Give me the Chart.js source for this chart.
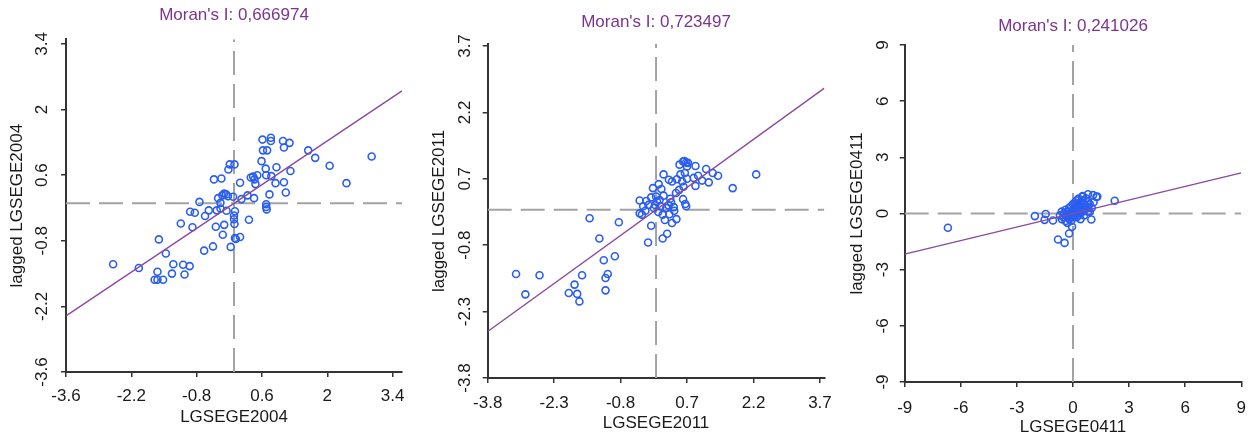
<!DOCTYPE html>
<html>
<head>
<meta charset="utf-8">
<script src="https://cdn.jsdelivr.net/npm/chart.js@4"></script>
<style>
  html, body { margin: 0; padding: 0; background: #fff; }
  #wrap { position: relative; width: 1254px; height: 441px; }
  canvas { position: absolute; top: 0; }
</style>
</head>
<body>
<div id="wrap">
  <canvas id="c2004" width="418" height="441" style="left:0px"></canvas>
  <canvas id="c2011" width="414" height="441" style="left:420px"></canvas>
  <canvas id="c0411" width="420" height="441" style="left:834px"></canvas>
</div>
<script>
// tick values
const ticks2004 = [-3.6, -2.2, -0.8, 0.6, 2, 3.4];
const ticks2011 = [-3.8, -2.3, -0.8, 0.7, 2.2, 3.7];
const ticks0411 = [-9, -6, -3, 0, 3, 6, 9];

// Moran's I (slope of the fitted line)
const moranI = [0.666974, 0.723497, 0.241026];
const moranText = ['0,666974', '0,723497', '0,241026'];

// LGSEGE2004 vs lagged
const x2004 = [-2.59, -2.04, -1.61, -1.46, -1.64, -1.70, -1.64, -1.52, -1.33, -1.30, -1.09, -0.95, -1.06, -1.14,
  -0.89, -0.94, -0.84, -0.74, -0.62, -0.54, -0.64, -0.45, -0.39, -0.21, -0.24, -0.07, 0.02, 0.13, 0.32, 0.01,
  0.00, 0.02, -0.37, -0.29, -0.34, -0.25, -0.21, -0.17, -0.13, -0.02, -0.29, -0.16, 0.16, 0.29, 0.43, 0.13,
  -0.43, -0.27, -0.12, -0.09, 0.01, 0.36, 0.41, 0.44, 0.50, 0.46, 0.59, 0.68, 0.69, 0.80, 0.91, 0.76, 0.69,
  0.69, 0.70, 0.89, 1.07, 1.11, 1.21, 0.62, 0.71, 0.61, 0.79, 0.79, 1.05, 1.19, 1.07, 1.59, 1.74, 2.05, 2.41,
  2.95, 0.00, 0.04];
const lag2004 = [-1.30, -1.38, -0.77, -1.07, -1.46, -1.63, -1.63, -1.63, -1.50, -1.30, -1.31, -1.34, -1.52, -0.43,
  -0.51, -0.18, -0.20, 0.03, -0.27, -0.15, -1.01, -0.92, -0.50, -0.46, -0.67, -0.93, -0.74, -0.72, -0.35, -0.44,
  -0.26, -0.17, -0.15, -0.11, 0.11, 0.17, 0.21, 0.19, 0.15, 0.14, 0.01, -0.16, 0.09, 0.17, 0.11, 0.44,
  0.51, 0.53, 0.72, 0.83, 0.83, 0.55, 0.57, 0.51, 0.60, 0.41, 0.90, 0.74, 0.60, 0.58, 0.77, 0.19, -0.02,
  -0.08, -0.13, 0.43, 0.45, 0.23, 0.69, 1.13, 1.13, 1.36, 1.40, 1.33, 1.33, 1.29, 1.19, 1.13, 0.97, 0.80, 0.43,
  1.00, -0.34, -0.76];

// LGSEGE2011 vs lagged
const x2011 = [-3.16, -2.95, -2.63, -1.97, -1.84, -1.78, -1.73, -1.67, -1.50, -1.28, -1.18, -1.14, -1.09, -1.14,
  -0.93, -0.84, -0.37, -0.37, -0.32, -0.18, -0.11, -0.11, -0.07, 0.06, -0.17, -0.02, 0.02, 0.17, 0.10, 0.23,
  0.15, 0.20, 0.15, 0.25, 0.36, 0.46, 0.41, 0.34, 0.17, 0.29, 0.36, 0.47, 0.53, 0.61, 0.68, 0.70, 0.65, 0.59,
  0.61, 0.66, 0.68, 0.89, 0.89, 0.95, 1.04, 1.13, 1.19, 1.28, 1.40, 1.73, 2.26, -0.29, -0.24, -0.05, 0.05,
  0.32, 0.40, 0.52, 0.62, 0.70, 0.72, 0.55, 0.45, -0.22, 0.12, 0.00, 0.28, 0.85, 0.64, 0.30, 0.08];
const lag2011 = [-1.45, -1.91, -1.48, -1.88, -1.69, -1.90, -2.07, -1.48, -0.19, -0.65, -1.14, -1.54, -1.45, -1.82,
  -1.05, -0.28, 0.21, -0.08, -0.11, -0.74, -0.36, 0.28, 0.49, 0.58, 0.11, 0.11, 0.19, 0.32, 0.08, 0.04,
  -0.11, -0.23, -0.65, -0.54, -0.30, -0.21, -0.02, 0.17, 0.80, 0.68, 0.64, 0.69, 1.02, 1.09, 1.07, 0.98, 0.83, 0.64,
  0.24, 0.13, 0.08, 0.99, 0.54, 0.77, 0.66, 0.92, 0.62, 0.83, 0.77, 0.49, 0.80, 0.08, -0.02, 0.04, -0.05,
  0.25, 0.06, 0.45, 0.52, 0.70, 1.06, 0.80, 0.38, 0.20, 0.47, 0.30, 0.10, 0.72, 1.10, -0.10, 0.22];

// LGSEGE0411 vs lagged
const x0411 = [-6.69, -2.04, -1.46, -1.52, -1.07, -0.80, -0.45, -0.21, -0.05, 2.23, 0.53, 0.80, 1.07, 1.25, 0.98, 0.80,
  -0.7, -0.6, -0.6, -0.5, -0.5, -0.4, -0.4, -0.4, -0.3, -0.3, -0.3, -0.2, -0.2, -0.2, -0.1, -0.1, -0.1, -0.1,
  0.0, 0.0, 0.0, 0.0, 0.1, 0.1, 0.1, 0.1, 0.2, 0.2, 0.2, 0.2, 0.2, 0.3, 0.3, 0.3, 0.3, 0.3, 0.4, 0.4, 0.4,
  0.4, 0.4, 0.5, 0.5, 0.5, 0.5, 0.6, 0.6, 0.6, 0.7, 0.7, 0.8, 0.8, 0.9, 0.9, 1.0, 1.1, 1.3];
const lag0411 = [-0.76, -0.14, -0.03, -0.34, -0.37, -1.39, -1.57, -1.07, -0.71, 0.68, 0.93, 1.03, 0.98, 0.89, -0.32, 0.09,
  -0.1, 0.1, -0.3, 0.0, -0.2, 0.2, -0.1, -0.4, 0.1, -0.2, -0.5, 0.0, 0.3, -0.3, 0.1, -0.1, 0.4, -0.4,
  0.0, 0.2, -0.2, 0.5, 0.1, -0.1, 0.3, 0.6, 0.0, 0.2, 0.4, -0.2, 0.7, 0.1, 0.3, 0.5, -0.1, 0.8, 0.0, 0.2, 0.4,
  0.6, -0.3, 0.1, 0.3, 0.7, 0.9, 0.2, 0.5, -0.1, 0.4, 0.8, 0.3, 0.6, 0.1, 0.5, 0.3, 0.6, 0.9];

Chart.defaults.font.family = "'Liberation Sans', Arial, sans-serif";
Chart.defaults.color = '#1a1a1a';

const pointBlue = '#2a5ef2';
const linePurple = '#8a4a9e';
const titlePurple = '#7c348f';
const axisGrey = '#333';
const dashGrey = '#a3a3a3';

function pairs(xs, ys) {
  return xs.map((x, i) => ({ x: x, y: ys[i] }));
}

function moranChart(id, p) {
  const ctx = document.getElementById(id).getContext('2d');
  return new Chart(ctx, {
    type: 'scatter',
    data: {
      datasets: [
        {
          // fitted line, slope = Moran's I
          data: [{ x: p.xr[0], y: p.slope * p.xr[0] }, { x: p.xr[1], y: p.slope * p.xr[1] }],
          showLine: true, pointRadius: 0, borderColor: linePurple, borderWidth: 1.4, order: 0
        },
        {
          data: pairs(p.xs, p.ys),
          pointRadius: 3.5, pointBorderWidth: 1.6, borderColor: pointBlue,
          backgroundColor: 'rgba(0,0,0,0)', order: 1
        },
        {
          data: [{ x: p.xr[0], y: 0 }, { x: p.xr[1], y: 0 }],
          showLine: true, pointRadius: 0, borderColor: dashGrey, borderWidth: 2, borderDash: [24, 9], order: 2
        },
        {
          data: [{ x: 0, y: p.yr[0] }, { x: 0, y: p.yr[1] }],
          showLine: true, pointRadius: 0, borderColor: dashGrey, borderWidth: 2, borderDash: [24, 9], order: 2
        }
      ]
    },
    options: {
      responsive: false,
      animation: false,
      devicePixelRatio: 1,
      layout: { padding: { left: 0, right: p.padR, top: 0, bottom: 0 } },
      plugins: {
        legend: { display: false },
        tooltip: { enabled: false },
        title: {
          display: true,
          fullSize: false,
          text: "Moran's I: " + p.moran,
          color: titlePurple,
          font: { size: 17, weight: 'normal' },
          padding: { top: p.tTop, bottom: p.tBot }
        }
      },
      scales: {
        x: {
          type: 'linear', min: p.xr[0], max: p.xr[1],
          afterBuildTicks: (s) => { s.ticks = p.ticks.map(v => ({ value: v })); },
          afterFit: (s) => { s.height = p.xH; s.paddingLeft = 0; s.paddingRight = 0; },
          ticks: { autoSkip: false, maxRotation: 0, padding: p.xtkPad, font: { size: 17 } },
          grid: { drawOnChartArea: false, tickLength: 5, color: axisGrey, lineWidth: 1.5 },
          border: { display: true, color: axisGrey, width: 2 },
          title: { display: true, text: p.xTitle, font: { size: 17 }, padding: { top: 0, bottom: p.xtPad } }
        },
        y: {
          type: 'linear', min: p.yr[0], max: p.yr[1],
          afterBuildTicks: (s) => { s.ticks = p.ticks.map(v => ({ value: v })); },
          afterFit: (s) => { s.width = p.yW; s.paddingTop = 0; s.paddingBottom = 0; },
          ticks: { autoSkip: false, minRotation: 90, maxRotation: 90, crossAlign: 'center', padding: p.ytkPad, font: { size: 17 } },
          grid: { drawOnChartArea: false, tickLength: 5, color: axisGrey, lineWidth: 1.5 },
          border: { display: true, color: axisGrey, width: 2 },
          title: { display: true, text: 'lagged ' + p.xTitle, font: { size: 17 }, padding: { top: p.ytPad, bottom: 0 } }
        }
      }
    }
  });
}

moranChart('c2004', {
  xs: x2004, ys: lag2004, ticks: ticks2004, slope: moranI[0], moran: moranText[0], xTitle: 'LGSEGE2004',
  xr: [-3.6, 3.6], yr: [-3.6, 3.5], yW: 66, padR: 16, xH: 69, tTop: 4.8, tBot: 14.1,
  xtPad: 13.8, ytPad: 6.8, ytkPad: 4, xtkPad: 9
});
moranChart('c2011', {
  xs: x2011, ys: lag2011, ticks: ticks2011, slope: moranI[1], moran: moranText[1], xTitle: 'LGSEGE2011',
  xr: [-3.8, 3.8], yr: [-3.8, 3.75], yW: 67.7, padR: 9.6, xH: 63, tTop: 11.8, tBot: 11.6,
  xtPad: 7.8, ytPad: 8.8, ytkPad: 3, xtkPad: 10
});
moranChart('c0411', {
  xs: x0411, ys: lag0411, ticks: ticks0411, slope: moranI[2], moran: moranText[2], xTitle: 'LGSEGE0411',
  xr: [-9, 9], yr: [-9, 9], yW: 70.7, padR: 12.7, xH: 59, tTop: 15.8, tBot: 8.8,
  xtPad: 3.8, ytPad: 12.8, ytkPad: 9, xtkPad: 11
});
</script>
</body>
</html>
